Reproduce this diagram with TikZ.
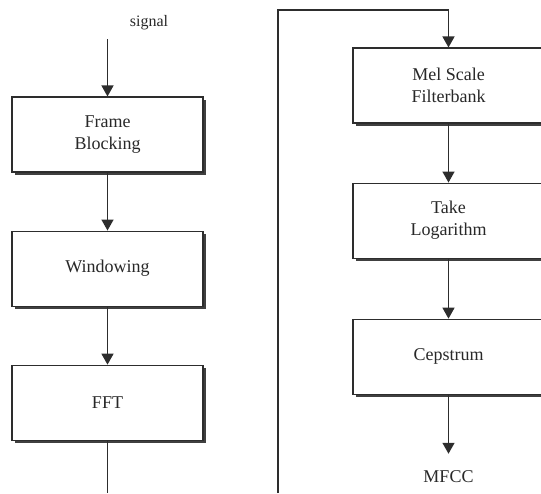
\documentclass[tikz,border=0pt]{standalone}
\usepackage{fontspec}
\setmainfont{Liberation Serif}
\usepackage{tikz}
\usetikzlibrary{arrows.meta, positioning, shadows}
\definecolor{mfccline}{RGB}{45,45,45}
\definecolor{mfcctext}{RGB}{40,40,40}

\begin{document}
\begin{tikzpicture}[
    x=1pt, y=-1pt,
    node distance=58pt,
    stage/.style={rectangle, draw=mfccline, line width=1.1pt, fill=white, minimum width=191pt, minimum height=75pt, align=center, text=mfcctext, font=\fontsize{18}{22}\selectfont, drop shadow={shadow xshift=3pt, shadow yshift=-3pt, opacity=1, fill=black!75}},
    lbl/.style={text=mfcctext, inner sep=0pt},
    arrow/.style={-{Triangle[width=12pt, length=11pt]}, line width=1.4pt, mfccline},
    wire/.style={line width=1.4pt, mfccline}
]
\useasboundingbox (0,0) rectangle (541,493);

% Left column
\node[lbl, font=\fontsize{16}{18}\selectfont] (signal) at (149,23) {signal};
\coordinate (sigin) at (107.5,39);
\node[stage] (frame) at (107.5,134.5) {Frame\\Blocking};
\node[stage, below=of frame] (window) {Windowing};
\node[stage, below=of window] (fft) {FFT};
\coordinate (fftout) at (107.5,493);

% Right column
\node[stage] (mel) at (448.5,85.5) {Mel Scale\\Filterbank};
\node[stage, below=59pt of mel] (log) {Take\\Logarithm};
\node[stage, below=60pt of log] (ceps) {Cepstrum};
\node[lbl, font=\fontsize{18}{20}\selectfont] (mfcc) at (448.5,477) {MFCC};

% Return path
\coordinate (loopbot) at (278,493);
\coordinate (looptop) at (278,10);

% Arrows
\draw[arrow] (sigin) -- (frame);
\draw[arrow] (frame) -- (window);
\draw[arrow] (window) -- (fft);
\draw[wire] (fft) -- (fftout);
\draw[arrow] (loopbot) -- (looptop) -| (mel.north);
\draw[arrow] (mel) -- (log);
\draw[arrow] (log) -- (ceps);
\draw[arrow, shorten >=17pt] (ceps) -- (mfcc);

\end{tikzpicture}
\end{document}
